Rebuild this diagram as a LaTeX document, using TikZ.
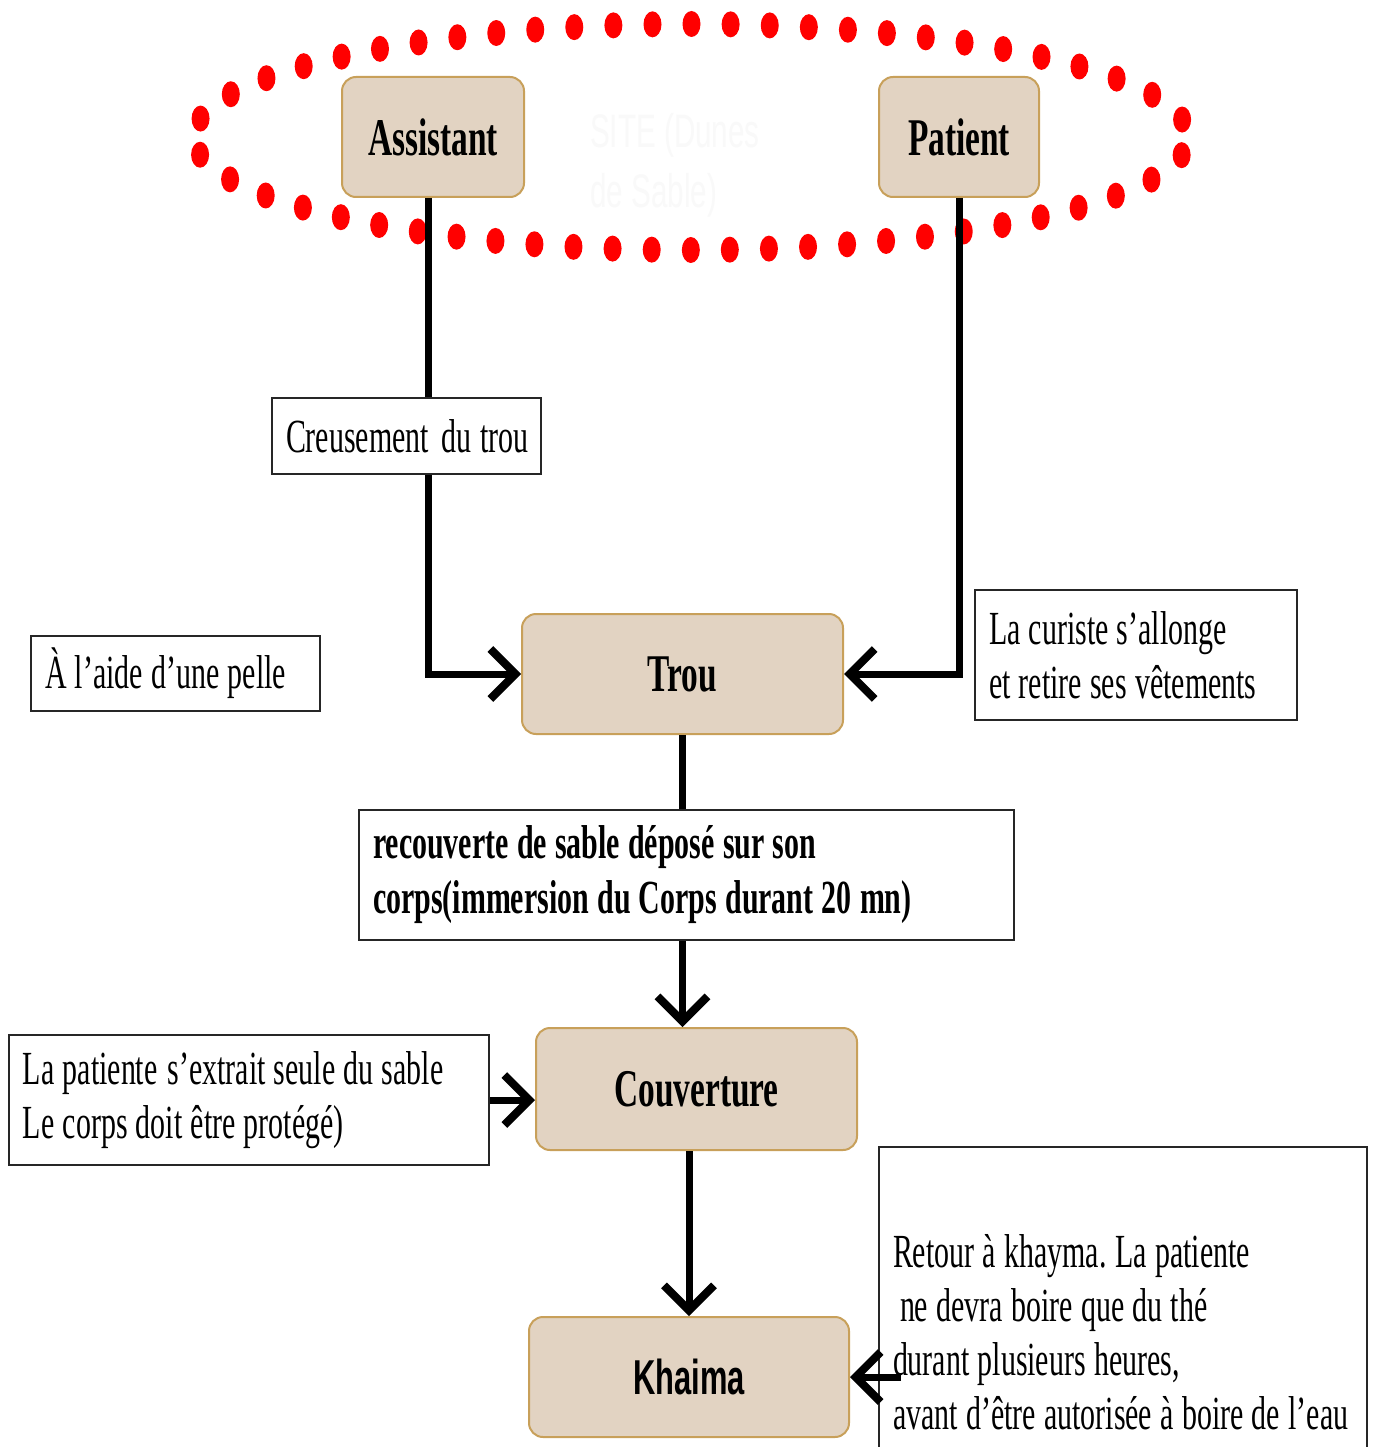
\documentclass[tikz,border=0pt]{standalone}
\usepackage{fontspec}
\usetikzlibrary{arrows.meta,decorations.markings}
\newfontfamily\cserif[FakeStretch=0.63]{Liberation Serif}
\newfontfamily\csans[FakeStretch=0.63]{Liberation Sans}
\newcommand\mylabelfont{\cserif\bfseries\fontsize{53}{60}\selectfont}
\newcommand\myregfont{\cserif\fontsize{47.5}{54}\selectfont}
\newcommand\myboldfont{\cserif\bfseries\fontsize{47.5}{55}\selectfont}
\newcommand\mysitefont{\csans\fontsize{47}{60}\selectfont}
\newcommand\ws{\hspace{8.3pt}}
\definecolor{tanfill}{RGB}{226,211,194}
\definecolor{tanedge}{RGB}{200,160,90}
\definecolor{ghost}{RGB}{249,249,249}
\begin{document}
\begin{tikzpicture}[x=1pt,y=-1pt,
  tanbox/.style={rectangle, rounded corners=14pt, fill=tanfill, draw=tanedge, line width=2pt, inner sep=0pt,
    font=\mylabelfont},
  txtbox/.style={rectangle, draw=black!85, line width=2pt, fill=white, inner xsep=14pt, inner ysep=0pt,
    align=left, font=\myregfont},
  boldtxt/.style={font=\myboldfont},
  conn/.style={line width=7pt},
  arr/.style={line width=7pt, -{Straight Barb[length=25pt,width=50pt,line width=8pt]}},
  reddots/.style={decorate, decoration={markings,
    mark=between positions 0.00926 and 0.999 step 0.0185185 with
    {\pgftransformresetnontranslations \fill[red] (0pt,0pt) ellipse (9pt and 13pt);}}}
]
\useasboundingbox (0,0) rectangle (1376,1447);
\fill[white] (0,0) rectangle (1376,1447);

% dotted oval
\path[reddots] (691,137) ellipse (497 and 113);

% faint site label
\node[anchor=west, inner sep=0pt, align=left, text=ghost, font=\mysitefont] (site) at (590,165)
  {SITE (Dunes\\de Sable)};

% main boxes
\node[tanbox, minimum width=182pt, minimum height=120pt] (assistant) at (433,137) {Assistant};
\node[tanbox, minimum width=160pt, minimum height=120pt] (patient) at (959,137) {Patient};
\node[tanbox, minimum width=321pt, minimum height=120pt] (trou) at (682.5,674) {Trou};
\node[tanbox, minimum width=321pt, minimum height=122pt] (couv) at (696.5,1089) {Couverture};
\node[tanbox, minimum width=320pt, minimum height=120pt,
  font=\csans\bfseries\fontsize{49}{56}\selectfont] (khaima) at (689,1377) {Khaima};

% text boxes
\node[txtbox, text width=241pt, minimum height=76pt] (creuse) at (406.5,436)
  {\mbox{Creusement\hspace{13pt}du\ws trou}};
\node[txtbox, text width=261pt, minimum height=75pt] (pelle) at (175.5,673.5)
  {\mbox{À\ws l’aide\ws d’une\ws pelle}};
\node[txtbox, text width=294pt, minimum height=130pt] (curiste) at (1136,655)
  {\mbox{La\ws curiste\ws s’allonge}\\\mbox{et\ws retire\ws ses\ws vêtements}};
\node[txtbox, boldtxt, text width=627pt, minimum height=130pt] (recouv) at (686.5,875)
  {\mbox{recouverte\ws de\ws sable\ws déposé\ws sur\ws son}\\\mbox{corps(immersion\ws du\ws Corps\ws durant\ws 20\ws mn)}};
\node[txtbox, text width=452pt, minimum height=130pt] (lapat) at (249,1100)
  {\mbox{La\ws patiente\hspace{10pt}s’extrait\ws seule\ws du\ws sable}\\\mbox{Le\ws corps\ws doit\ws être\ws protégé)}};
\node[txtbox, text width=460pt, minimum height=370pt] (retour) at (1123,1332)
  {\mbox{Retour\ws à\ws khayma.\hspace{9pt}La\ws patiente}\\\mbox{\hspace*{7pt}ne\ws devra\ws boire\ws que\ws du\ws thé}\\\mbox{durant\ws plusieurs\ws heures,}\\\mbox{avant\ws d’être\ws autorisée\ws à\ws boire\ws de\ws l’eau}};

% connectors
\coordinate (colA) at (428,0);
\coordinate (rt) at ([xshift=23pt]retour.west);
\draw[conn] (colA |- assistant.south) -- (colA |- creuse.north);
\draw[arr] (colA |- creuse.south) |- (trou.west);
\draw[arr] (patient.south) |- (trou.east);
\draw[conn] (trou.south) -- (trou.south |- recouv.north);
\draw[arr] (trou.south |- recouv.south) -- (trou.south |- couv.north);
\draw[arr] (lapat.east) -- (lapat.east -| couv.west);
\draw[arr] (khaima.north |- couv.south) -- (khaima.north);
\draw[arr] (rt |- khaima.east) -- (khaima.east);
\end{tikzpicture}
\end{document}
